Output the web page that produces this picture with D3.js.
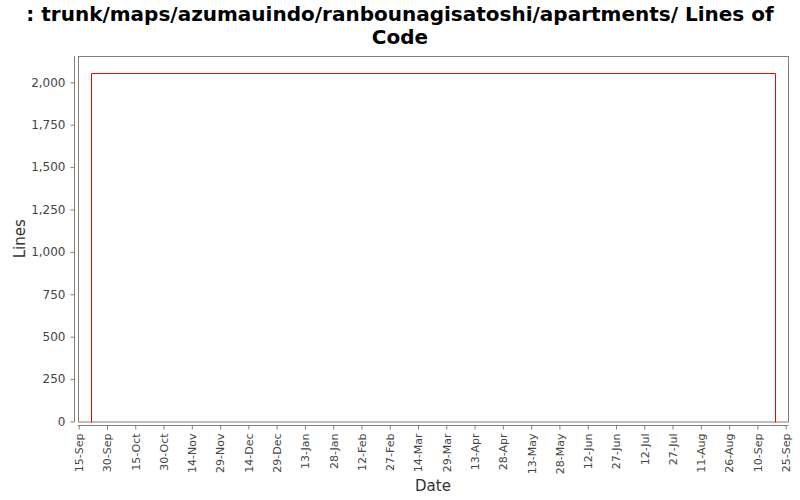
<!DOCTYPE html>
<html>
<head>
<meta charset="utf-8">
<script src="https://cdn.jsdelivr.net/npm/d3@7"></script>
<style>
  body { margin: 0; background: #fff; }
  text { font-family: "DejaVu Sans", sans-serif; }
</style>
</head>
<body>
<svg id="chart" width="800" height="500"></svg>
<script>
// data
const titleLines = [": trunk/maps/azumauindo/ranbounagisatoshi/apartments/ Lines of", "Code"];
const locDates = ["2009-09-21T18:00", "2009-09-21T18:00", "2010-09-19T04:00", "2010-09-19T04:00"];
const locValues = [0, 2053, 2053, 0];
const yTicks = [0, 250, 500, 750, 1000, 1250, 1500, 1750, 2000];
const xTickDates = ["2009-09-15", "2009-09-30", "2009-10-15", "2009-10-30", "2009-11-14", "2009-11-29",
  "2009-12-14", "2009-12-29", "2010-01-13", "2010-01-28", "2010-02-12", "2010-02-27", "2010-03-14",
  "2010-03-29", "2010-04-13", "2010-04-28", "2010-05-13", "2010-05-28", "2010-06-12", "2010-06-27",
  "2010-07-12", "2010-07-27", "2010-08-11", "2010-08-26", "2010-09-10", "2010-09-25"];
const xTickLabels = ["15-Sep", "30-Sep", "15-Oct", "30-Oct", "14-Nov", "29-Nov", "14-Dec", "29-Dec",
  "13-Jan", "28-Jan", "12-Feb", "27-Feb", "14-Mar", "29-Mar", "13-Apr", "28-Apr", "13-May", "28-May",
  "12-Jun", "27-Jun", "12-Jul", "27-Jul", "11-Aug", "26-Aug", "10-Sep", "25-Sep"];

const parse = d3.isoParse;
const plotL = 78, plotR = 788, plotT = 56, plotB = 421.5;

const svg = d3.select("#chart");

const x = d3.scaleTime()
  .domain([parse("2009-09-14T15:00"), parse("2010-09-26T06:00")])
  .range([plotL, plotR]);
const y = d3.scaleLinear()
  .domain([0, 2155])
  .range([plotB, plotT]);

// title
svg.append("text")
  .attr("x", 400).attr("y", 21)
  .attr("text-anchor", "middle")
  .style("font-size", "20px").style("font-weight", "bold")
  .selectAll("tspan")
  .data(titleLines)
  .join("tspan")
    .attr("x", 400)
    .attr("dy", (d, i) => i ? 23 : 0)
    .text(d => d);

// plot border
svg.append("rect")
  .attr("x", plotL + 0.5).attr("y", plotT + 0.5)
  .attr("width", plotR - plotL).attr("height", plotB - plotT)
  .attr("fill", "none").attr("stroke", "#808080");

// y axis
const yAxis = svg.append("g")
  .attr("transform", "translate(74.5,0)")
  .call(d3.axisLeft(y).tickValues(yTicks).tickSize(4).tickPadding(5).tickFormat(d3.format(",")));
yAxis.select(".domain").attr("stroke", "#808080").attr("d", `M0,${plotT}V${plotB + 0.5}`);
yAxis.selectAll(".tick line").attr("stroke", "#808080");
yAxis.selectAll(".tick text").attr("fill", "#444").style("font-size", "12px").style("font-family", "DejaVu Sans");

// x axis
const xAxis = svg.append("g")
  .attr("transform", "translate(0,425.5)")
  .call(d3.axisBottom(x).tickValues(xTickDates.map(parse)).tickSize(4)
    .tickFormat((d, i) => xTickLabels[i]));
xAxis.select(".domain").attr("stroke", "#808080").attr("d", `M${plotL},0H${plotR + 0.5}`);
xAxis.selectAll(".tick line").attr("stroke", "#808080");
xAxis.selectAll(".tick text")
  .attr("fill", "#444").style("font-size", "11px").style("font-family", "DejaVu Sans")
  .attr("text-anchor", "end")
  .attr("transform", "rotate(-90)")
  .attr("x", -8).attr("y", 0).attr("dy", "0.35em");

// axis labels
svg.append("text")
  .attr("x", (plotL + plotR) / 2).attr("y", 491)
  .attr("text-anchor", "middle")
  .style("font-size", "15px").attr("fill", "#333")
  .text("Date");
svg.append("text")
  .attr("transform", `translate(25,${(plotT + plotB) / 2}) rotate(-90)`)
  .attr("text-anchor", "middle")
  .style("font-size", "15px").attr("fill", "#333")
  .text("Lines");

// lines of code series
const pts = locDates.map((d, i) => [parse(d), locValues[i]]);
svg.append("path")
  .datum(pts)
  .attr("fill", "none")
  .attr("stroke", "red")
  .attr("stroke-width", 1)
  .attr("d", d3.line().x(d => Math.round(x(d[0])) + 0.5).y(d => Math.round(y(d[1])) + 0.5));
</script>
</body>
</html>
